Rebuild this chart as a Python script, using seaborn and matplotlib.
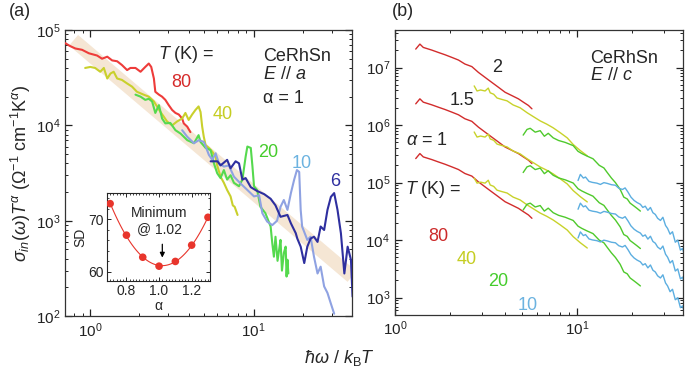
import numpy as np
import matplotlib
matplotlib.use("Agg")
import matplotlib.pyplot as plt
import seaborn as sns
from matplotlib.ticker import LogLocator, NullFormatter, MultipleLocator

# ---------------------------------------------------------------------------
# Panel (a): sigma_in(w) T^alpha, alpha = 1, E // a
# ---------------------------------------------------------------------------
red80_x = [0.70, 0.75, 0.81, 0.89, 0.98, 1.10, 1.18, 1.27, 1.36, 1.46, 1.56, 1.68, 1.76, 1.89, 2.03, 2.17,
           2.28, 2.36, 2.45, 2.50, 2.63, 2.75, 2.88, 3.02, 3.17, 3.32, 3.48, 3.65, 3.73, 3.92, 4.10]
red80_y = [7.3e4, 6.8e4, 6.4e4, 6.2e4, 5.7e4, 5.4e4, 5.0e4, 5.25e4, 4.8e4, 4.7e4, 4.3e4, 3.8e4, 4.0e4, 4.0e4,
           3.65e4, 4.1e4, 4.45e4, 4.1e4, 3.1e4, 2.25e4, 2.1e4, 2.0e4, 1.85e4, 1.63e4, 1.45e4, 1.35e4, 1.3e4,
           1.18e4, 1.05e4, 9.7e3, 8.5e3]

yellow40_x = [0.93, 1.00, 1.07, 1.15, 1.21, 1.27, 1.33, 1.39, 1.46, 1.56, 1.68, 1.80, 1.93, 2.12, 2.28, 2.45,
              2.56, 2.69, 2.82, 2.95, 3.17, 3.40, 3.65, 3.82, 4.00, 4.20, 4.40, 4.60, 4.73, 4.84, 4.95, 5.08,
              5.32, 5.58, 5.85, 5.98, 6.27, 6.57, 6.88, 7.22, 7.45, 7.65, 7.97]
yellow40_y = [4.0e4, 4.1e4, 4.0e4, 3.65e4, 4.0e4, 3.1e4, 3.5e4, 3.65e4, 3.1e4, 3.0e4, 2.75e4, 2.55e4, 2.25e4,
              2.1e4, 2.0e4, 1.78e4, 1.58e4, 1.38e4, 1.23e4, 1.1e4, 1.0e4, 1.1e4, 1.18e4, 1.35e4, 1.14e4, 1.3e4,
              1.45e4, 1.58e4, 1.38e4, 9.7e3, 7.6e3, 6.2e3, 5.8e3, 5.3e3, 4.7e3, 3.8e3, 2.9e3, 2.5e3, 2.1e3,
              1.8e3, 1.45e3, 1.4e3, 1.15e3]

green20_x = [1.89, 2.03, 2.17, 2.28, 2.39, 2.50, 2.63, 2.75, 2.88, 3.09, 3.32, 3.57, 3.92, 4.31, 4.60, 4.73,
             5.08, 5.45, 5.71, 5.98, 6.27, 6.57, 6.88, 7.22, 7.57, 8.13, 8.53, 8.93, 9.15, 9.60, 9.83, 10.05,
             10.5, 11.0, 11.8, 12.7, 13.0, 13.3, 13.6, 14.0, 14.3, 14.6, 14.9, 15.3, 15.7, 15.9, 16.1, 16.3]
green20_y = [2.1e4, 2.0e4, 1.85e4, 1.9e4, 1.78e4, 1.35e4, 1.63e4, 1.18e4, 1.05e4, 1.06e4, 8.9e3, 8.2e3, 7.0e3,
             6.5e3, 7.9e3, 6.7e3, 5.8e3, 5.5e3, 4.0e3, 3.15e3, 2.8e3, 3.4e3, 2.7e3, 3.0e3, 2.5e3, 2.3e3, 2.7e3,
             4.7e3, 6.0e3, 5.8e3, 3.7e3, 2.3e3, 2.1e3, 1.4e3, 1.2e3, 870, 580, 420, 680, 380, 490, 630, 300,
             460, 535, 260, 390, 280]

blue10_x = [3.65, 3.92, 4.31, 4.62, 4.96, 5.32, 5.58, 5.85, 6.13, 6.57, 7.05, 7.57, 8.33, 9.15, 10.05, 10.8,
            11.3, 12.1, 13.0, 13.9, 14.6, 15.3, 16.1, 16.9, 17.7, 18.4, 19.0, 19.4, 19.8, 21.3, 22.3, 23.4,
            24.6, 25.7, 27.0, 28.3, 29.7, 31.1]
blue10_y = [8.9e3, 7.6e3, 6.5e3, 7.0e3, 6.7e3, 4.9e3, 4.35e3, 5.1e3, 4.0e3, 3.7e3, 3.8e3, 2.9e3, 2.45e3, 2.1e3,
            1.8e3, 1.85e3, 1.2e3, 980, 900, 1.0e3, 1.4e3, 1.65e3, 1.3e3, 1.95e3, 2.7e3, 3.4e3, 3.25e3, 1.3e3,
            870, 630, 680, 420, 280, 330, 205, 175, 135, 106]

navy6_x = [5.45, 6.0, 6.27, 6.88, 7.22, 7.75, 8.13, 8.53, 8.93, 9.6, 10.5, 11.6, 12.7, 13.6, 14.6, 16.1, 16.9,
           18.1, 18.5, 19.4, 20.4, 21.3, 22.3, 23.4, 24.6, 25.7, 27.0, 28.3, 29.7, 31.1, 32.6, 34.2, 35.9,
           37.6, 39.4, 40.3]
navy6_y = [4.2e3, 4.2e3, 3.8e3, 4.35e3, 3.55e3, 4.2e3, 4.0e3, 2.7e3, 2.8e3, 2.25e3, 2.05e3, 1.9e3, 1.7e3,
           1.45e3, 1.1e3, 1.15e3, 940, 740, 650, 535, 360, 535, 650, 680, 600, 870, 800, 1.3e3, 1.78e3, 1.95e3,
           1.3e3, 740, 280, 535, 390, 160]

# alpha = 1 guide band
band_x = [0.79, 40.0]
band_y = [7.8e4, 260]

# inset: standard deviation vs alpha
alpha_sd = [0.7, 0.8, 0.9, 1.0, 1.1, 1.2, 1.3]
sd_vals = [73.0, 67.0, 62.8, 61.1, 62.0, 65.1, 70.4]

# ---------------------------------------------------------------------------
# Panel (b): E // c, values read at alpha = 1; other alphas scale with T
# ---------------------------------------------------------------------------
T_b = [80, 40, 20, 10]
alphas_b = [1, 1.5, 2]

red_b_x = [1.30, 1.37, 1.43, 1.59, 1.73, 1.88, 2.05, 2.23, 2.42, 2.64, 2.87, 3.12, 3.40, 3.69, 4.02, 4.38,
           4.76, 5.07, 5.40, 5.64]
red_b_y = [2.62e5, 3.2e5, 2.8e5, 2.52e5, 2.29e5, 2.09e5, 1.88e5, 1.69e5, 1.44e5, 1.3e5, 1.03e5, 8.45e4, 6.9e4,
           5.7e4, 4.65e4, 4.07e4, 3.57e4, 3.12e4, 2.74e4, 2.4e4]

yellow_b_x = [2.72, 2.82, 2.95, 3.12, 3.25, 3.33, 3.48, 3.63, 3.85, 4.12, 4.45, 4.86, 5.31, 5.75, 6.26, 6.80,
              7.38, 8.05, 8.81, 9.50, 10.4, 11.35]
yellow_b_y = [1.2e5, 9.8e4, 1.02e5, 9.8e4, 1.1e5, 9.1e4, 8.6e4, 7.4e4, 7.0e4, 6.6e4, 5.6e4, 5.0e4, 4.1e4, 3.5e4,
              2.96e4, 2.6e4, 2.24e4, 1.85e4, 1.5e4, 1.15e4, 9.0e3, 7.3e3]

green_b_x = [5.05, 5.30, 5.52, 5.88, 6.26, 6.60, 6.93, 7.38, 7.90, 8.59, 9.50, 10.1, 10.6, 11.3, 12.2, 13.2,
             14.0, 14.6, 15.4, 16.2, 17.2, 18.0, 18.8, 19.5, 20.3, 21.2, 22.2]
green_b_y = [3.35e4, 4.2e4, 4.4e4, 3.77e4, 4.0e4, 3.2e4, 3.6e4, 3.0e4, 2.7e4, 2.5e4, 2.2e4, 1.75e4, 1.6e4,
             1.45e4, 1.3e4, 1.0e4, 9.0e3, 7.5e3, 6.0e3, 5.0e3, 3.8e3, 2.8e3, 2.6e3, 2.2e3, 2.0e3, 1.8e3, 1.6e3]

blue_b_x = [10.1, 10.4, 10.8, 11.1, 11.6, 12.1, 12.8, 13.4, 14.0, 14.6, 15.4, 16.2, 16.9, 17.7, 18.3, 19.0,
            19.7, 20.5, 21.3, 22.2, 22.9, 23.6, 24.4, 25.2, 26.0, 26.8, 27.6, 28.6, 29.5, 30.5, 31.3, 32.3,
            33.3, 34.5, 35.6, 36.8, 37.8, 38.9]
blue_b_y = [1.09e4, 1.39e4, 1.2e4, 1.25e4, 1.05e4, 1.01e4, 9.8e3, 9.3e3, 1.0e4, 9.7e3, 9.2e3, 9.0e3, 8.0e3,
            7.6e3, 8.1e3, 6.8e3, 5.6e3, 4.9e3, 4.5e3, 4.2e3, 3.7e3, 3.9e3, 3.3e3, 3.7e3, 3.0e3, 2.8e3, 2.4e3,
            2.2e3, 2.5e3, 1.8e3, 1.6e3, 1.27e3, 1.4e3, 920, 1.0e3, 670, 720, 525]

# ---------------------------------------------------------------------------
sns.set_style("ticks")
plt.rcParams['font.family'] = ['Liberation Sans', 'DejaVu Sans']
plt.rcParams['mathtext.fontset'] = 'custom'
plt.rcParams['mathtext.rm'] = 'Liberation Sans'
plt.rcParams['mathtext.it'] = 'Liberation Sans:italic'
plt.rcParams['mathtext.bf'] = 'Liberation Sans:bold'


def style_log(ax):
    ax.set_xscale('log')
    ax.set_yscale('log')
    for axis in (ax.xaxis, ax.yaxis):
        axis.set_major_locator(LogLocator(base=10, numticks=20))
        axis.set_minor_locator(LogLocator(base=10, subs=np.arange(2, 10), numticks=100))
        axis.set_minor_formatter(NullFormatter())
    ax.tick_params(which='both', direction='in', top=True, right=True, labelsize=11, colors='#222222')
    ax.tick_params(which='major', length=5, width=0.9)
    ax.tick_params(which='minor', length=2.5, width=0.7)
    for s in ax.spines.values():
        s.set_linewidth(0.9)
        s.set_color('#333333')


fig = plt.figure(figsize=(6.85, 3.75), dpi=100)

# ----------------------------- panel (a) -----------------------------------
ax1 = fig.add_axes([0.0949, 0.157, 0.419, 0.763])
ax1.plot(band_x, band_y, color='#f5e6d4', lw=10, solid_capstyle='butt', zorder=1)
curves_a = [
    (red80_x, red80_y, '#ee3c3a'),
    (yellow40_x, yellow40_y, '#c9d02c'),
    (green20_x, green20_y, '#55d94e'),
    (blue10_x, blue10_y, '#8fa2e2'),
    (navy6_x, navy6_y, '#2e2f9f'),
]
for cx, cy, col in curves_a:
    sns.lineplot(x=cx, y=cy, ax=ax1, color=col, lw=1.5, sort=False, estimator=None, zorder=3)
style_log(ax1)
ax1.set_xlim(0.7, 40)
ax1.set_ylim(100, 1e5)
ax1.set_ylabel(r'$\sigma_{in}(\omega)T^{\alpha}$ (Ω$^{-1}$ cm$^{-1}$K$^{\alpha}$)', fontsize=13, labelpad=2)

ax1.text(0.324, 0.913, r'$T$ (K) =', transform=ax1.transAxes, fontsize=13, va='center')
ax1.text(0.404, 0.815, '80', transform=ax1.transAxes, fontsize=13, color='#d62b2b', ha='center', va='center')
ax1.text(0.551, 0.703, '40', transform=ax1.transAxes, fontsize=13, color='#c5cd22', ha='center', va='center')
ax1.text(0.707, 0.573, '20', transform=ax1.transAxes, fontsize=13, color='#45cc2c', ha='center', va='center')
ax1.text(0.826, 0.535, '10', transform=ax1.transAxes, fontsize=13, color='#6cb3e0', ha='center', va='center')
ax1.text(0.94, 0.472, '6', transform=ax1.transAxes, fontsize=13, color='#2e2f9f', ha='center', va='center')
ax1.text(0.69, 0.906, 'CeRhSn', transform=ax1.transAxes, fontsize=13, va='center')
ax1.text(0.69, 0.843, r'$E$ // $a$', transform=ax1.transAxes, fontsize=13, va='center')
ax1.text(0.69, 0.762, 'α = 1', transform=ax1.transAxes, fontsize=13, va='center')

# inset
axi = fig.add_axes([0.156, 0.251, 0.150, 0.234])
coef = np.polyfit(alpha_sd, sd_vals, 2)
fine = np.linspace(min(alpha_sd), max(alpha_sd), 100)
sns.lineplot(x=fine, y=np.polyval(coef, fine), ax=axi, color='#e8352c', lw=0.8, sort=False, estimator=None)
sns.scatterplot(x=alpha_sd, y=sd_vals, ax=axi, color='#e8352c', s=30, edgecolor='none', zorder=4)
axi.set_xlim(0.68, 1.31)
axi.set_ylim(58.3, 75)
axi.xaxis.set_minor_locator(MultipleLocator(0.02))
axi.yaxis.set_major_locator(MultipleLocator(10))
axi.yaxis.set_minor_locator(MultipleLocator(2))
axi.set_xticks([0.8, 1.0, 1.2])
axi.set_xticklabels(['0.8', '1.0', '1.2'])
axi.tick_params(which='both', direction='in', top=True, right=True, labelsize=10, pad=2)
axi.tick_params(which='major', length=3, width=0.7)
axi.tick_params(which='minor', length=1.5, width=0.6)
for s in axi.spines.values():
    s.set_linewidth(0.8)
axi.set_xlabel('α', fontsize=10, labelpad=1)
axi.set_ylabel('SD', fontsize=10, labelpad=1)
axi.text(1.0, 71.2, 'Minimum', fontsize=10, ha='center', va='center')
axi.text(1.0, 68.2, '@ 1.02', fontsize=10, ha='center', va='center')
axi.annotate('', xy=(1.02, 62.2), xytext=(1.02, 65.8),
             arrowprops=dict(arrowstyle='-|>', color='black', lw=0.9, mutation_scale=7))

# ----------------------------- panel (b) -----------------------------------
ax2 = fig.add_axes([0.5766, 0.16, 0.4204, 0.76])
curves_b = [
    (red_b_x, red_b_y, '#d22c2c', T_b[0]),
    (yellow_b_x, yellow_b_y, '#c8d22a', T_b[1]),
    (green_b_x, green_b_y, '#4fc92c', T_b[2]),
    (blue_b_x, blue_b_y, '#5caee0', T_b[3]),
]
for a in alphas_b:
    for cx, cy, col, T in curves_b:
        scaled = np.array(cy) * T ** (a - 1)
        sns.lineplot(x=cx, y=scaled, ax=ax2, color=col, lw=1.0, sort=False, estimator=None)
style_log(ax2)
ax2.set_xlim(1, 38)
ax2.set_ylim(5e2, 4.5e7)

ax2.text(0.354, 0.87, '2', transform=ax2.transAxes, fontsize=13, ha='center', va='center')
ax2.text(0.233, 0.754, '1.5', transform=ax2.transAxes, fontsize=13, ha='center', va='center')
ax2.text(0.111, 0.614, r'$\alpha$ = 1', transform=ax2.transAxes, fontsize=13, ha='center', va='center')
ax2.text(0.677, 0.9, 'CeRhSn', transform=ax2.transAxes, fontsize=13, va='center')
ax2.text(0.677, 0.84, r'$E$ // $c$', transform=ax2.transAxes, fontsize=13, va='center')
ax2.text(0.035, 0.439, r'$T$ (K) =', transform=ax2.transAxes, fontsize=13, va='center')
ax2.text(0.149, 0.274, '80', transform=ax2.transAxes, fontsize=13, color='#cc2a2a', ha='center', va='center')
ax2.text(0.25, 0.196, '40', transform=ax2.transAxes, fontsize=13, color='#c5cd22', ha='center', va='center')
ax2.text(0.358, 0.116, '20', transform=ax2.transAxes, fontsize=13, color='#45cc2c', ha='center', va='center')
ax2.text(0.462, 0.032, '10', transform=ax2.transAxes, fontsize=13, color='#6cb3e0', ha='center', va='center')

fig.text(0.029, 0.968, '(a)', fontsize=13, ha='center', va='center')
fig.text(0.588, 0.968, '(b)', fontsize=13, ha='center', va='center')
fig.text(0.496, 0.045, r'$\hbar\omega$ / $k_{\mathrm{B}}T$', fontsize=13, ha='center', va='center')

fig.savefig('out.png', dpi=100)
